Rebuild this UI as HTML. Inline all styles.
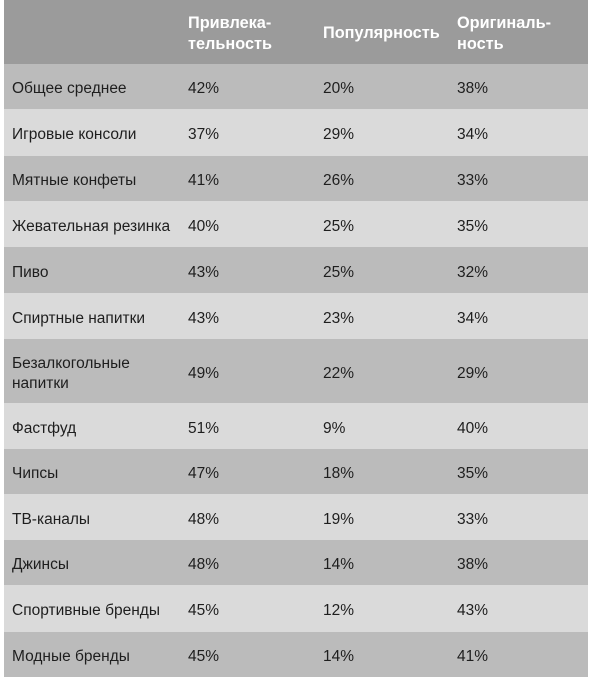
<!DOCTYPE html>
<html><head><meta charset="utf-8">
<style>
html,body{margin:0;padding:0;background:#fff;}
body{width:600px;height:687px;position:relative;overflow:hidden;font-family:"Liberation Sans","DejaVu Sans",sans-serif;}
.r{position:absolute;left:4px;width:584px;}
.h{background:#9b9b9b;top:0;height:64px;color:#fff;font-weight:bold;}
.d{background:#bbbbbb;}
.l{background:#dadada;}
.c{position:absolute;top:0;bottom:0;display:flex;align-items:center;font-size:15.5px;color:#1e1e1e;line-height:20px;padding-top:5px;box-sizing:border-box;}
.h .c{color:#fff;line-height:21px;font-size:16.3px;padding-top:3px;}
.c1{left:8px;}
.c2{left:184px;}
.c3{left:319px;}
.c4{left:453px;}
</style></head><body>
<div class="r h"><div class="c c2">Привлека-<br>тельность</div><div class="c c3">Популярность</div><div class="c c4">Оригиналь-<br>ность</div></div>

<div class="r d" style="top:64px;height:45px"><div class="c c1">Общее среднее</div><div class="c c2">42%</div><div class="c c3">20%</div><div class="c c4">38%</div></div>
<div class="r l" style="top:109px;height:47px"><div class="c c1">Игровые консоли</div><div class="c c2">37%</div><div class="c c3">29%</div><div class="c c4">34%</div></div>
<div class="r d" style="top:156px;height:45px"><div class="c c1">Мятные конфеты</div><div class="c c2">41%</div><div class="c c3">26%</div><div class="c c4">33%</div></div>
<div class="r l" style="top:201px;height:46px"><div class="c c1">Жевательная резинка</div><div class="c c2">40%</div><div class="c c3">25%</div><div class="c c4">35%</div></div>
<div class="r d" style="top:247px;height:46px"><div class="c c1">Пиво</div><div class="c c2">43%</div><div class="c c3">25%</div><div class="c c4">32%</div></div>
<div class="r l" style="top:293px;height:46px"><div class="c c1">Спиртные напитки</div><div class="c c2">43%</div><div class="c c3">23%</div><div class="c c4">34%</div></div>
<div class="r d" style="top:339px;height:64px"><div class="c c1">Безалкогольные<br>напитки</div><div class="c c2">49%</div><div class="c c3">22%</div><div class="c c4">29%</div></div>
<div class="r l" style="top:403px;height:46px"><div class="c c1">Фастфуд</div><div class="c c2">51%</div><div class="c c3">9%</div><div class="c c4">40%</div></div>
<div class="r d" style="top:449px;height:45px"><div class="c c1">Чипсы</div><div class="c c2">47%</div><div class="c c3">18%</div><div class="c c4">35%</div></div>
<div class="r l" style="top:494px;height:46px"><div class="c c1">ТВ-каналы</div><div class="c c2">48%</div><div class="c c3">19%</div><div class="c c4">33%</div></div>
<div class="r d" style="top:540px;height:45px"><div class="c c1">Джинсы</div><div class="c c2">48%</div><div class="c c3">14%</div><div class="c c4">38%</div></div>
<div class="r l" style="top:585px;height:47px"><div class="c c1">Спортивные бренды</div><div class="c c2">45%</div><div class="c c3">12%</div><div class="c c4">43%</div></div>
<div class="r d" style="top:632px;height:45px"><div class="c c1">Модные бренды</div><div class="c c2">45%</div><div class="c c3">14%</div><div class="c c4">41%</div></div>
</body></html>
